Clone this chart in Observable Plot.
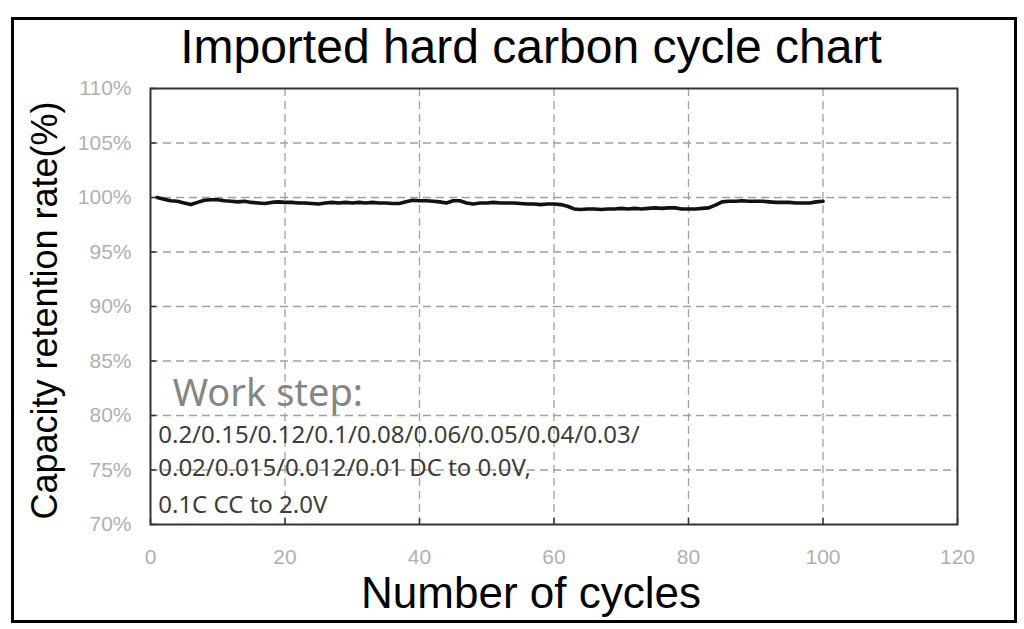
<!DOCTYPE html>
<html>
<head>
<meta charset="utf-8">
<script src="https://cdn.jsdelivr.net/npm/d3@7"></script>
<script src="https://cdn.jsdelivr.net/npm/@observablehq/plot@0.6"></script>
<style>
html, body { margin: 0; padding: 0; background: #fff; }
#wrap { position: relative; width: 1024px; height: 629px; overflow: hidden; background: #fff; }
#border { position: absolute; left: 11px; top: 17px; width: 1006px; height: 606px; border: 3px solid #000; box-sizing: border-box; pointer-events: none; }
#title { position: absolute; left: 19px; top: 19px; width: 1024px; text-align: center; font-family: "Liberation Sans", Arial, sans-serif; font-size: 48px; line-height: normal; color: #000; white-space: nowrap; }
#chart { position: absolute; left: 0; top: 76px; }
</style>
</head>
<body>
<div id="wrap">
  <div id="title"></div>
  <div id="chart"></div>
  <div id="border"></div>
</div>
<script>
const titleText = "Imported hard carbon cycle chart";
const xLabel = "Number of cycles";
const yLabel = "Capacity retention rate(%)";

const cycles = Array.from({length: 100}, (_, i) => i + 1);
const retention = [
  100.0, 99.85, 99.7, 99.65, 99.5, 99.35, 99.55, 99.75, 99.8, 99.8,
  99.7, 99.65, 99.6, 99.65, 99.55, 99.5, 99.45, 99.55, 99.6, 99.55,
  99.55, 99.5, 99.5, 99.45, 99.4, 99.5, 99.55, 99.5, 99.55, 99.5,
  99.55, 99.5, 99.55, 99.5, 99.5, 99.45, 99.45, 99.6, 99.75, 99.7,
  99.7, 99.65, 99.6, 99.5, 99.7, 99.7, 99.5, 99.4, 99.5, 99.5,
  99.55, 99.5, 99.5, 99.5, 99.45, 99.4, 99.4, 99.35, 99.4, 99.4,
  99.35, 99.2, 98.95, 98.9, 98.95, 98.95, 98.9, 98.95, 98.95, 99.0,
  98.95, 99.0, 98.95, 99.0, 99.05, 99.0, 99.05, 99.05, 98.95, 98.95,
  98.95, 99.0, 99.05, 99.3, 99.6, 99.65, 99.65, 99.7, 99.65, 99.65,
  99.65, 99.6, 99.55, 99.55, 99.55, 99.5, 99.5, 99.5, 99.6, 99.65
];

const xTicks = [0, 20, 40, 60, 80, 100, 120];
const yTicks = [70, 75, 80, 85, 90, 95, 100, 105, 110];
const xGrid = [20, 40, 60, 80, 100];
const yGrid = [75, 80, 85, 90, 95, 100, 105];

const noteHeading = ["Work step:"];
const noteLines = [
  "0.2/0.15/0.12/0.1/0.08/0.06/0.05/0.04/0.03/",
  "0.02/0.015/0.012/0.01 DC to 0.0V,",
  "0.1C CC to 2.0V"
];
// anchor positions of the note in data coordinates
const noteHeadingAt = {x: 3.3, y: 81.95};
const noteLinesX = 1.15;
const noteLinesY = [78.17, 75.14, 71.74];

const data = cycles.map((c, i) => ({cycle: c, value: retention[i]}));
const notes = noteLines.map((t, i) => ({text: t, x: noteLinesX, y: noteLinesY[i]}));

document.getElementById("title").textContent = titleText;

const tickFont = {fontFamily: "'Liberation Sans', Arial, sans-serif", fontSize: 21};

const chart = Plot.plot({
  width: 1024,
  height: 553,
  marginLeft: 150,
  marginRight: 67,
  marginTop: 12,
  marginBottom: 105,
  style: {background: "transparent", overflow: "visible"},
  x: {domain: [0, 120]},
  y: {domain: [70, 110]},
  marks: [
    Plot.gridX(xGrid, {stroke: "#a0a0a0", strokeOpacity: 1, strokeWidth: 1.3, strokeDasharray: "8,5"}),
    Plot.gridY(yGrid, {stroke: "#a0a0a0", strokeOpacity: 1, strokeWidth: 1.3, strokeDasharray: "8,5"}),
    Plot.axisX(xTicks, {tickSize: -6, stroke: "#333", strokeWidth: 1.5, text: null, label: null}),
    Plot.axisY(yTicks, {tickSize: -6, stroke: "#333", strokeWidth: 1.5, text: null, label: null}),
    Plot.axisX(xTicks, {tickSize: 0, tickPadding: 25, fill: "#b0b0b0", label: null, ...tickFont}),
    Plot.axisY(yTicks, {tickSize: 0, tickPadding: 19, fill: "#b0b0b0", label: null, tickFormat: d => d + "%", ...tickFont}),
    Plot.frame({stroke: "#333", strokeWidth: 2}),
    Plot.line(data, {x: "cycle", y: "value", stroke: "#111", strokeWidth: 3.6, strokeLinejoin: "round", strokeLinecap: "round"}),
    Plot.text(noteHeading, {x: () => noteHeadingAt.x, y: () => noteHeadingAt.y, text: d => d, textAnchor: "start", lineAnchor: "middle", fill: "#858585", fontSize: 38, fontFamily: "'Noto Sans', sans-serif"}),
    Plot.text(notes, {x: "x", y: "y", text: "text", textAnchor: "start", lineAnchor: "middle", fill: "#3c3c3c", fontSize: 24, fontFamily: "'Noto Sans', sans-serif"}),
    Plot.text([xLabel], {frameAnchor: "bottom", dx: -23, dy: 83, text: d => d, textAnchor: "middle", lineAnchor: "bottom", fill: "#000", fontSize: 44, fontFamily: "'Liberation Sans', Arial, sans-serif"}),
    Plot.text([yLabel], {frameAnchor: "left", dx: -94, dy: 4, rotate: -90, text: d => d, textAnchor: "middle", lineAnchor: "bottom", fill: "#000", fontSize: 36, fontFamily: "'Liberation Sans', Arial, sans-serif"})
  ]
});
document.getElementById("chart").appendChild(chart);
</script>
</body>
</html>
